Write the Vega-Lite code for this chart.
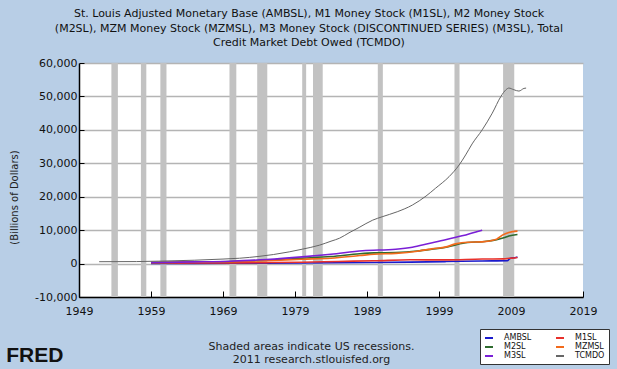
{
  "$schema": "https://vega.github.io/schema/vega-lite/v6.json",
  "width": 504,
  "height": 234,
  "autosize": {"type": "none"},
  "padding": {"left": 79, "top": 63, "right": 34, "bottom": 72},
  "background": "#B8CEE6",
  "title": {
    "text": ["St. Louis Adjusted Monetary Base (AMBSL), M1 Money Stock (M1SL), M2 Money Stock", "(M2SL), MZM Money Stock (MZMSL), M3 Money Stock (DISCONTINUED SERIES) (M3SL), Total", "Credit Market Debt Owed (TCMDO)"],
    "font": "DejaVu Sans",
    "fontSize": 11,
    "fontWeight": "normal",
    "color": "#111111",
    "anchor": "middle",
    "dx": -22,
    "offset": 9,
    "lineHeight": 14.3
  },
  "config": {
    "view": {"stroke": null, "fill": "white"},
    "font": "DejaVu Sans"
  },
  "datasets": {
    "recessions": [
      {"start": 1953.5, "end": 1954.4},
      {"start": 1957.6, "end": 1958.35},
      {"start": 1960.3, "end": 1961.15},
      {"start": 1969.9, "end": 1970.85},
      {"start": 1973.75, "end": 1975.15},
      {"start": 1980.0, "end": 1980.55},
      {"start": 1981.5, "end": 1982.85},
      {"start": 1990.5, "end": 1991.2},
      {"start": 2001.15, "end": 2001.85},
      {"start": 2007.9, "end": 2009.45}
    ],
    "series": [
      {"series": "AMBSL", "year": 1959.0, "value": 45},
      {"series": "AMBSL", "year": 1965.0, "value": 55},
      {"series": "AMBSL", "year": 1970.0, "value": 75},
      {"series": "AMBSL", "year": 1975.0, "value": 110},
      {"series": "AMBSL", "year": 1980.0, "value": 160},
      {"series": "AMBSL", "year": 1985.0, "value": 230},
      {"series": "AMBSL", "year": 1990.0, "value": 320},
      {"series": "AMBSL", "year": 1995.0, "value": 440},
      {"series": "AMBSL", "year": 2000.0, "value": 600},
      {"series": "AMBSL", "year": 2005.0, "value": 780},
      {"series": "AMBSL", "year": 2008.5, "value": 860},
      {"series": "AMBSL", "year": 2008.8, "value": 1450},
      {"series": "AMBSL", "year": 2009.2, "value": 1700},
      {"series": "AMBSL", "year": 2009.5, "value": 1750},
      {"series": "AMBSL", "year": 2009.9, "value": 1950},
      {"series": "M1SL", "year": 1959.0, "value": 140},
      {"series": "M1SL", "year": 1965.0, "value": 165},
      {"series": "M1SL", "year": 1970.0, "value": 215},
      {"series": "M1SL", "year": 1975.0, "value": 290},
      {"series": "M1SL", "year": 1980.0, "value": 410},
      {"series": "M1SL", "year": 1985.0, "value": 640},
      {"series": "M1SL", "year": 1990.0, "value": 830},
      {"series": "M1SL", "year": 1995.0, "value": 1130},
      {"series": "M1SL", "year": 2000.0, "value": 1100},
      {"series": "M1SL", "year": 2005.0, "value": 1370},
      {"series": "M1SL", "year": 2008.0, "value": 1400},
      {"series": "M1SL", "year": 2008.8, "value": 1600},
      {"series": "M1SL", "year": 2009.5, "value": 1680},
      {"series": "M1SL", "year": 2009.9, "value": 1800},
      {"series": "M2SL", "year": 1959.0, "value": 290},
      {"series": "M2SL", "year": 1965.0, "value": 460},
      {"series": "M2SL", "year": 1970.0, "value": 625},
      {"series": "M2SL", "year": 1975.0, "value": 1010},
      {"series": "M2SL", "year": 1980.0, "value": 1600},
      {"series": "M2SL", "year": 1984.0, "value": 2100},
      {"series": "M2SL", "year": 1988.0, "value": 2950},
      {"series": "M2SL", "year": 1990.0, "value": 3200},
      {"series": "M2SL", "year": 1993.0, "value": 3300},
      {"series": "M2SL", "year": 1996.0, "value": 3750},
      {"series": "M2SL", "year": 1998.0, "value": 4300},
      {"series": "M2SL", "year": 2000.0, "value": 4900},
      {"series": "M2SL", "year": 2001.3, "value": 5600},
      {"series": "M2SL", "year": 2003.0, "value": 6300},
      {"series": "M2SL", "year": 2005.0, "value": 6550},
      {"series": "M2SL", "year": 2007.0, "value": 7100},
      {"series": "M2SL", "year": 2008.0, "value": 7700},
      {"series": "M2SL", "year": 2008.7, "value": 8250},
      {"series": "M2SL", "year": 2009.9, "value": 8700},
      {"series": "MZMSL", "year": 1959.0, "value": 300},
      {"series": "MZMSL", "year": 1965.0, "value": 420},
      {"series": "MZMSL", "year": 1970.0, "value": 560},
      {"series": "MZMSL", "year": 1975.0, "value": 850},
      {"series": "MZMSL", "year": 1980.0, "value": 1300},
      {"series": "MZMSL", "year": 1984.0, "value": 1600},
      {"series": "MZMSL", "year": 1988.0, "value": 2400},
      {"series": "MZMSL", "year": 1990.0, "value": 2800},
      {"series": "MZMSL", "year": 1993.0, "value": 3050},
      {"series": "MZMSL", "year": 1996.0, "value": 3700},
      {"series": "MZMSL", "year": 1998.0, "value": 4400},
      {"series": "MZMSL", "year": 2000.0, "value": 5000},
      {"series": "MZMSL", "year": 2001.3, "value": 5900},
      {"series": "MZMSL", "year": 2003.0, "value": 6400},
      {"series": "MZMSL", "year": 2005.0, "value": 6500},
      {"series": "MZMSL", "year": 2007.0, "value": 7300},
      {"series": "MZMSL", "year": 2007.8, "value": 8500},
      {"series": "MZMSL", "year": 2008.7, "value": 9300},
      {"series": "MZMSL", "year": 2009.9, "value": 9700},
      {"series": "M3SL", "year": 1959.0, "value": 290},
      {"series": "M3SL", "year": 1965.0, "value": 500},
      {"series": "M3SL", "year": 1970.0, "value": 700},
      {"series": "M3SL", "year": 1975.0, "value": 1200},
      {"series": "M3SL", "year": 1980.0, "value": 2000},
      {"series": "M3SL", "year": 1984.0, "value": 2800},
      {"series": "M3SL", "year": 1988.4, "value": 3850},
      {"series": "M3SL", "year": 1993.0, "value": 4300},
      {"series": "M3SL", "year": 1995.3, "value": 4900},
      {"series": "M3SL", "year": 1997.6, "value": 6000},
      {"series": "M3SL", "year": 1999.9, "value": 7100},
      {"series": "M3SL", "year": 2002.2, "value": 8300},
      {"series": "M3SL", "year": 2005.0, "value": 10000},
      {"series": "TCMDO", "year": 1951.8, "value": 560},
      {"series": "TCMDO", "year": 1957.0, "value": 600},
      {"series": "TCMDO", "year": 1960.0, "value": 720},
      {"series": "TCMDO", "year": 1965.0, "value": 1000},
      {"series": "TCMDO", "year": 1969.0, "value": 1350},
      {"series": "TCMDO", "year": 1971.3, "value": 1600},
      {"series": "TCMDO", "year": 1974.0, "value": 2150},
      {"series": "TCMDO", "year": 1976.0, "value": 2700},
      {"series": "TCMDO", "year": 1978.2, "value": 3500},
      {"series": "TCMDO", "year": 1980.0, "value": 4300},
      {"series": "TCMDO", "year": 1982.4, "value": 5500},
      {"series": "TCMDO", "year": 1984.0, "value": 6700},
      {"series": "TCMDO", "year": 1985.2, "value": 7600},
      {"series": "TCMDO", "year": 1986.5, "value": 9200},
      {"series": "TCMDO", "year": 1987.9, "value": 10800},
      {"series": "TCMDO", "year": 1989.8, "value": 13000},
      {"series": "TCMDO", "year": 1991.1, "value": 14000},
      {"series": "TCMDO", "year": 1993.2, "value": 15500},
      {"series": "TCMDO", "year": 1995.3, "value": 17500},
      {"series": "TCMDO", "year": 1997.2, "value": 20200},
      {"series": "TCMDO", "year": 1998.5, "value": 22500},
      {"series": "TCMDO", "year": 2000.4, "value": 26000},
      {"series": "TCMDO", "year": 2001.8, "value": 29500},
      {"series": "TCMDO", "year": 2002.7, "value": 32500},
      {"series": "TCMDO", "year": 2003.6, "value": 35800},
      {"series": "TCMDO", "year": 2005.0, "value": 40000},
      {"series": "TCMDO", "year": 2006.4, "value": 45000},
      {"series": "TCMDO", "year": 2007.6, "value": 50000},
      {"series": "TCMDO", "year": 2008.3, "value": 52000},
      {"series": "TCMDO", "year": 2008.7, "value": 52500},
      {"series": "TCMDO", "year": 2009.4, "value": 52000},
      {"series": "TCMDO", "year": 2010.1, "value": 51600},
      {"series": "TCMDO", "year": 2010.8, "value": 52400},
      {"series": "TCMDO", "year": 2011.1, "value": 52500}
    ]
  },
  "layer": [
    {
      "data": {"name": "recessions"},
      "mark": {"type": "rect", "color": "#C2C2C2"},
      "encoding": {
        "x": {
          "field": "start",
          "type": "quantitative",
          "scale": {"domain": [1949, 2019], "nice": false, "zero": false},
          "axis": {
            "values": [1949, 1959, 1969, 1979, 1989, 1999, 2009, 2019],
            "tickCount": 20,
            "format": "d",
            "grid": false,
            "labelFlush": false,
            "labelOverlap": false,
            "domainColor": "#000000",
            "domainWidth": 1.5,
            "tickColor": "#000000",
            "tickSize": -6,
            "labelPadding": 14,
            "labelFont": "DejaVu Sans",
            "labelFontSize": 11,
            "labelColor": "#111111",
            "title": ["Shaded areas indicate US recessions.", "\u00a0\u00a0\u00a0\u00a0\u00a0\u00a0\u00a02011 research.stlouisfed.org"],
            "titleFont": "DejaVu Sans",
            "titleFontSize": 11,
            "titleFontWeight": "normal",
            "titleColor": "#222222",
            "titleX": 232,
            "titleY": 43,
            "titleBaseline": "top",
            "titleLineHeight": 13.5
          }
        },
        "x2": {"field": "end"}
      }
    },
    {
      "data": {"name": "series"},
      "transform": [{"filter": "datum.series !== 'TCMDO'"}],
      "mark": {"type": "line", "interpolate": "monotone", "strokeWidth": 1.6},
      "encoding": {
        "x": {"field": "year", "type": "quantitative"},
        "y": {
          "field": "value",
          "type": "quantitative",
          "scale": {"domain": [-10000, 60000], "nice": false, "zero": false},
          "axis": {
            "values": [-10000, 0, 10000, 20000, 30000, 40000, 50000, 60000],
            "tickCount": 20,
            "format": ",d",
            "labelExpr": "replace(datum.label, '\u2212', '-')",
            "grid": true,
            "labelFlush": false,
            "labelOverlap": false,
            "gridColor": "#B4B4B4",
            "gridWidth": 1.5,
            "domainColor": "#000000",
            "domainWidth": 1.5,
            "tickColor": "#000000",
            "tickSize": -5,
            "labelPadding": 7,
            "labelFont": "DejaVu Sans",
            "labelFontSize": 11,
            "labelColor": "#111111",
            "title": "(Billions of Dollars)",
            "titleFont": "DejaVu Sans",
            "titleFontSize": 10,
            "titleFontWeight": "normal",
            "titleColor": "#222222",
            "titleX": -65,
            "titleY": 134,
            "titleBaseline": "middle",
            "titleAlign": "center"
          }
        },
        "color": {
          "field": "series",
          "type": "nominal",
          "scale": {
            "domain": ["AMBSL", "M2SL", "M3SL", "M1SL", "MZMSL", "TCMDO"],
            "range": ["#1A1ACC", "#2E6B2E", "#7A1FD6", "#E8302B", "#F26A1B", "#666666"]
          },
          "legend": {
            "orient": "none",
            "legendX": 401,
            "legendY": 266,
            "columns": 2,
            "title": null,
            "fillColor": "white",
            "strokeColor": "#333333",
            "padding": 4,
            "symbolType": "stroke",
            "symbolSize": 64,
            "symbolStrokeWidth": 2,
            "labelFont": "DejaVu Sans",
            "labelFontSize": 8,
            "labelColor": "#111111",
            "labelOffset": 10,
            "columnPadding": 20,
            "rowPadding": 0
          }
        }
      }
    },
    {
      "data": {"name": "series"},
      "transform": [{"filter": "datum.series === 'TCMDO'"}],
      "mark": {"type": "line", "interpolate": "monotone", "strokeWidth": 1},
      "encoding": {
        "x": {"field": "year", "type": "quantitative"},
        "y": {"field": "value", "type": "quantitative"},
        "color": {"field": "series", "type": "nominal"}
      }
    },
    {
      "data": {"values": [{"logo": "FRED"}]},
      "mark": {"type": "text", "font": "Liberation Sans", "fontSize": 21, "fontWeight": "bold", "color": "#111111", "align": "left", "baseline": "middle"},
      "encoding": {
        "text": {"field": "logo"},
        "x": {"datum": 1938.9},
        "y": {"datum": -27600}
      }
    }
  ]
}
